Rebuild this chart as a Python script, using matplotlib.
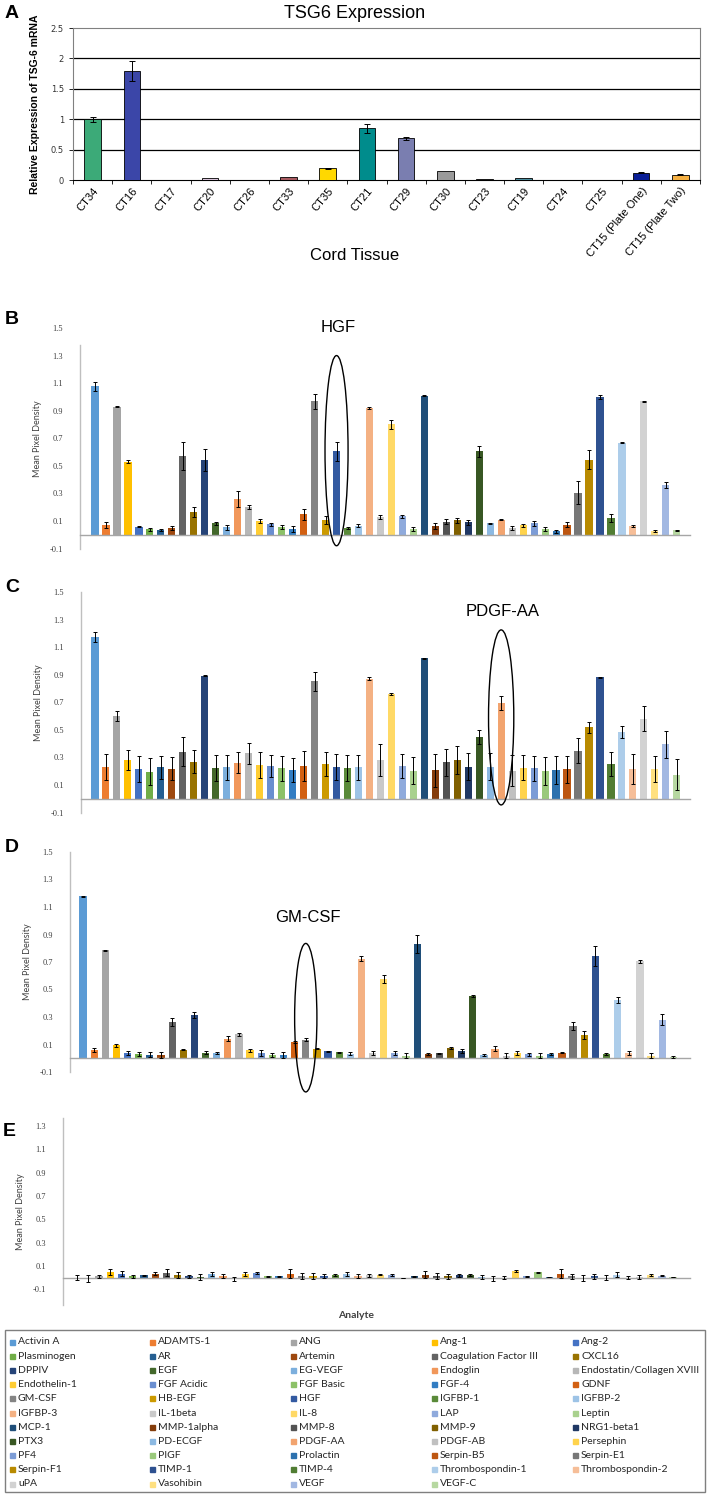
import colorsys
import numpy as np
import matplotlib
matplotlib.use("Agg")
import matplotlib.pyplot as plt
from matplotlib.patches import Ellipse, Rectangle
from matplotlib.ticker import FormatStrFormatter

# ---- panel A data ----
tissues = ['CT34', 'CT16', 'CT17', 'CT20', 'CT26', 'CT33', 'CT35', 'CT21', 'CT29',
           'CT30', 'CT23', 'CT19', 'CT24', 'CT25', 'CT15 (Plate One)', 'CT15 (Plate Two)']
tsg6 = [1.0, 1.79, 0, 0.04, 0, 0.05, 0.195, 0.85, 0.685, 0.14, 0.01, 0.03, 0, 0, 0.12, 0.085]
tsg6_err = [0.04, 0.16, 0, 0, 0, 0, 0.01, 0.075, 0.03, 0, 0, 0, 0, 0, 0.01, 0.01]
tsg6_colors = ['#3CAA78', '#3B46A8', '#FFFFFF', '#D9C3DA', '#FFFFFF', '#A85A60', '#FFD800',
               '#008C8C', '#7A7EB0', '#9A9A9A', '#5A5A5A', '#4C8FA0', '#FFFFFF', '#FFFFFF',
               '#0A1E96', '#F5B042']

# ---- analytes (panels B-E) ----
analytes = ['Activin A', 'ADAMTS-1', 'ANG', 'Ang-1', 'Ang-2', 'Plasminogen', 'AR', 'Artemin',
            'Coagulation Factor III', 'CXCL16', 'DPPIV', 'EGF', 'EG-VEGF', 'Endoglin',
            'Endostatin/Collagen XVIII', 'Endothelin-1', 'FGF Acidic', 'FGF Basic', 'FGF-4',
            'GDNF', 'GM-CSF', 'HB-EGF', 'HGF', 'IGFBP-1', 'IGFBP-2', 'IGFBP-3', 'IL-1beta',
            'IL-8', 'LAP', 'Leptin', 'MCP-1', 'MMP-1alpha', 'MMP-8', 'MMP-9', 'NRG1-beta1',
            'PTX3', 'PD-ECGF', 'PDGF-AA', 'PDGF-AB', 'Persephin', 'PF4', 'PIGF', 'Prolactin',
            'Serpin-B5', 'Serpin-E1', 'Serpin-F1', 'TIMP-1', 'TIMP-4', 'Thrombospondin-1',
            'Thrombospondin-2', 'uPA', 'Vasohibin', 'VEGF', 'VEGF-C']

hgf_vals = [1.076, 0.07, 0.93, 0.53, 0.058, 0.04, 0.035, 0.046, 0.57, 0.167, 0.543, 0.082,
            0.053, 0.26, 0.20, 0.10, 0.075, 0.056, 0.04, 0.148, 0.967, 0.107, 0.604, 0.048,
            0.066, 0.92, 0.13, 0.80, 0.133, 0.044, 1.008, 0.065, 0.095, 0.104, 0.09, 0.604,
            0.082, 0.109, 0.046, 0.068, 0.082, 0.044, 0.024, 0.073, 0.305, 0.545, 0.999,
            0.121, 0.667, 0.063, 0.967, 0.027, 0.361, 0.032]
hgf_err = [0.035, 0.02, 0.005, 0.01, 0.005, 0.01, 0.01, 0.015, 0.10, 0.036, 0.08, 0.01,
           0.02, 0.058, 0.015, 0.012, 0.012, 0.015, 0.02, 0.04, 0.053, 0.03, 0.068, 0.01,
           0.01, 0.008, 0.015, 0.034, 0.01, 0.015, 0.003, 0.02, 0.02, 0.02, 0.02, 0.04,
           0.005, 0.005, 0.015, 0.01, 0.02, 0.015, 0.012, 0.02, 0.085, 0.07, 0.015, 0.03,
           0.005, 0.01, 0.005, 0.01, 0.02, 0.005]

pdgf_vals = [1.173, 0.228, 0.60, 0.281, 0.216, 0.196, 0.228, 0.218, 0.342, 0.27, 0.892,
             0.223, 0.228, 0.262, 0.33, 0.245, 0.238, 0.22, 0.208, 0.238, 0.853, 0.252,
             0.233, 0.223, 0.228, 0.87, 0.281, 0.759, 0.238, 0.204, 1.018, 0.208, 0.264,
             0.279, 0.233, 0.448, 0.233, 0.696, 0.204, 0.225, 0.22, 0.20, 0.208, 0.213,
             0.347, 0.519, 0.882, 0.252, 0.485, 0.216, 0.582, 0.216, 0.395, 0.175]
pdgf_err = [0.036, 0.095, 0.036, 0.072, 0.095, 0.10, 0.085, 0.085, 0.104, 0.085, 0.005,
            0.095, 0.09, 0.075, 0.075, 0.095, 0.08, 0.09, 0.09, 0.11, 0.07, 0.085, 0.095,
            0.095, 0.09, 0.01, 0.114, 0.01, 0.085, 0.10, 0.003, 0.12, 0.10, 0.10, 0.10,
            0.05, 0.10, 0.05, 0.115, 0.09, 0.09, 0.10, 0.10, 0.10, 0.09, 0.04, 0.003,
            0.085, 0.045, 0.11, 0.09, 0.095, 0.10, 0.11]

gmcsf_vals = [1.178, 0.058, 0.785, 0.095, 0.039, 0.03, 0.027, 0.022, 0.264, 0.063, 0.313,
              0.041, 0.039, 0.143, 0.175, 0.058, 0.039, 0.024, 0.024, 0.119, 0.136, 0.07,
              0.051, 0.044, 0.034, 0.725, 0.039, 0.579, 0.041, 0.02, 0.834, 0.03, 0.035,
              0.075, 0.05, 0.453, 0.025, 0.07, 0.02, 0.04, 0.03, 0.02, 0.03, 0.04, 0.235,
              0.167, 0.744, 0.03, 0.422, 0.04, 0.705, 0.02, 0.279, 0.01]
gmcsf_err = [0.005, 0.015, 0.005, 0.01, 0.015, 0.015, 0.015, 0.02, 0.03, 0.005, 0.02,
             0.01, 0.005, 0.02, 0.012, 0.012, 0.02, 0.015, 0.02, 0.01, 0.008, 0.005, 0.005,
             0.005, 0.008, 0.02, 0.015, 0.03, 0.015, 0.015, 0.065, 0.005, 0.005, 0.005,
             0.015, 0.01, 0.005, 0.02, 0.015, 0.015, 0.01, 0.015, 0.005, 0.005, 0.03, 0.03,
             0.075, 0.005, 0.02, 0.015, 0.01, 0.015, 0.04, 0.01]

neg_vals = [0.0, -0.01, 0.01, 0.045, 0.035, 0.01, 0.02, 0.035, 0.04, 0.02, 0.01, 0.005,
            0.03, 0.015, -0.01, 0.03, 0.04, 0.01, 0.01, 0.035, 0.015, 0.015, 0.015, 0.025,
            0.03, 0.015, 0.02, 0.025, 0.02, -0.003, 0.01, 0.025, 0.015, 0.01, 0.02, 0.025,
            0.005, -0.005, 0.0, 0.055, 0.01, 0.045, 0.005, 0.035, 0.01, 0.0, 0.01, 0.0,
            0.025, 0.0, 0.005, 0.02, 0.015, 0.005]
neg_err = [0.02, 0.03, 0.015, 0.025, 0.02, 0.015, 0.005, 0.01, 0.03, 0.025, 0.015, 0.025,
           0.02, 0.02, 0.015, 0.02, 0.01, 0.005, 0.005, 0.035, 0.025, 0.025, 0.02, 0.01,
           0.02, 0.02, 0.015, 0.005, 0.01, 0.003, 0.005, 0.03, 0.025, 0.025, 0.015, 0.01,
           0.02, 0.02, 0.015, 0.01, 0.005, 0.005, 0.003, 0.035, 0.025, 0.025, 0.025, 0.02,
           0.02, 0.015, 0.015, 0.01, 0.005, 0.003]

# Excel-like palette: 6 accents, each cycle with a different luminance modifier
accents = ['#5B9BD5', '#ED7D31', '#A5A5A5', '#FFC000', '#4472C4', '#70AD47']
lum_mods = [(1, 0), (0.6, 0), (0.8, 0.2), (0.8, 0), (0.6, 0.4), (0.5, 0),
            (0.7, 0.3), (0.72, 0), (0.5, 0.5)]


def shade(hexcol, mod, off):
    r, g, b = matplotlib.colors.to_rgb(hexcol)
    h, l, s = colorsys.rgb_to_hls(r, g, b)
    l = min(1, l * mod + off)
    return colorsys.hls_to_rgb(h, l, s)


palette = [shade(accents[i % 6], *lum_mods[i // 6]) for i in range(len(analytes))]

W, H = 709, 1495
fig = plt.figure(figsize=(W / 100, H / 100), dpi=100)


def add_ax(left, right, top, bottom):
    return fig.add_axes([left / W, 1 - bottom / H, (right - left) / W, (bottom - top) / H])


# ---------------- panel A ----------------
ax = add_ax(73, 700, 28, 180)
x = np.arange(len(tissues))
ax.bar(x, tsg6, width=0.42, color=tsg6_colors, edgecolor='black', linewidth=0.6, zorder=3)
for i in range(len(tissues)):
    if tsg6_err[i] > 0:
        ax.errorbar(i, tsg6[i], yerr=tsg6_err[i], color='black', lw=0.7, capsize=2.5,
                    capthick=0.7, zorder=4)
ax.set_ylim(0, 2.5)
ax.set_xlim(-0.5, len(tissues) - 0.5)
ax.set_yticks([0, 0.5, 1, 1.5, 2, 2.5])
ax.yaxis.set_major_formatter(FormatStrFormatter('%g'))
for yv in [0.5, 1, 1.5, 2]:
    ax.axhline(yv, color='black', lw=0.9, zorder=1)
for s in ax.spines.values():
    s.set_color('#808080')
    s.set_linewidth(0.8)
ax.spines['bottom'].set_color('black')
ax.set_xticks(x)
ax.set_xticklabels(tissues, rotation=50, ha='right', rotation_mode='anchor',
                   fontsize=8, family='Liberation Sans')
ax.set_xticks(np.arange(len(tissues) + 1) - 0.5, minor=True)
ax.tick_params(axis='x', which='major', length=0, pad=4)
ax.tick_params(axis='x', which='minor', length=3, width=0.6)
ax.tick_params(axis='y', labelsize=6, length=3, width=0.6, labelcolor='#333333')
ax.set_ylabel('Relative Expression of TSG-6 mRNA', fontsize=7.5, fontweight='bold',
              family='Liberation Sans', labelpad=8)
fig.text(355 / W, 1 - 14 / H, 'TSG6 Expression', ha='center', va='center', fontsize=13,
         family='Liberation Sans')
fig.text(355 / W, 1 - 256 / H, 'Cord Tissue', ha='center', va='center', fontsize=12,
         family='Liberation Sans')
fig.text(12 / W, 1 - 14 / H, 'A', ha='center', va='center', fontsize=14, fontweight='bold',
         family='Liberation Sans')


# ---------------- panels B-E ----------------
def density_panel(box, vals, errs, ylim, yticks, xlim, spine_top=None):
    a = add_ax(*box)
    xi = np.arange(len(vals))
    a.bar(xi, vals, width=0.65, color=palette, zorder=2)
    a.errorbar(xi, vals, yerr=errs, fmt='none', ecolor='black', elinewidth=0.7,
               capsize=1.6, capthick=0.7, zorder=3)
    a.set_ylim(*ylim)
    a.set_xlim(*xlim)
    a.set_yticks(yticks)
    a.yaxis.set_major_formatter(FormatStrFormatter('%.1f'))
    a.tick_params(axis='y', length=0, labelsize=6, labelcolor='#404040', pad=12)
    for lab in a.get_yticklabels():
        lab.set_family('Liberation Serif')
    a.set_xticks([])
    for side in ['top', 'right']:
        a.spines[side].set_visible(False)
    a.spines['left'].set_color('#BFBFBF')
    a.spines['left'].set_linewidth(1)
    if spine_top is not None:
        a.spines['left'].set_bounds(ylim[0], spine_top)
    a.spines['bottom'].set_position(('data', 0))
    a.spines['bottom'].set_color('#A6A6A6')
    a.spines['bottom'].set_linewidth(1)
    a.set_ylabel('Mean Pixel Density', fontsize=6.5, color='#404040', family='Lato',
                 labelpad=6)
    return a


ticks_full = [-0.1, 0.1, 0.3, 0.5, 0.7, 0.9, 1.1, 1.3, 1.5]
axB = density_panel((80, 690, 328, 548.5), hgf_vals, hgf_err, (-0.1, 1.5), ticks_full,
                    (-1.37, 54.2), spine_top=1.38)
axC = density_panel((81, 690, 592, 812.5), pdgf_vals, pdgf_err, (-0.1, 1.5), ticks_full,
                    (-1.27, 54.2))
axD = density_panel((70, 690, 852, 1072), gmcsf_vals, gmcsf_err, (-0.1, 1.5), ticks_full,
                    (-1.17, 54.5))
axE = density_panel((63, 690, 1118, 1305), neg_vals, neg_err, (-0.235, 1.37),
                    [-0.1, 0.1, 0.3, 0.5, 0.7, 0.9, 1.1, 1.3], (-1.2, 54.5))
fig.text(356 / W, 1 - 1316 / H, 'Analyte', ha='center', va='center', fontsize=7.5,
         fontweight='bold', color='#404040', family='Lato')

# highlighted analytes
axB.add_patch(Ellipse((22, 0.61), 2.1, 1.38, fill=False, lw=1, ec='black', clip_on=False,
                      zorder=5))
axC.add_patch(Ellipse((37, 0.59), 2.3, 1.27, fill=False, lw=1, ec='black', clip_on=False,
                      zorder=5))
axD.add_patch(Ellipse((20, 0.295), 2.0, 1.08, fill=False, lw=1, ec='black', clip_on=False,
                      zorder=5))

for label, px, py in [('HGF', 338, 327), ('PDGF-AA', 503, 612), ('GM-CSF', 308, 918)]:
    fig.text(px / W, 1 - py / H, label, ha='center', va='center', fontsize=12,
             family='Liberation Sans')
for label, px, py in [('B', 12, 320), ('C', 12, 588), ('D', 12, 848), ('E', 9, 1131)]:
    fig.text(px / W, 1 - py / H, label, ha='center', va='center', fontsize=14,
             fontweight='bold', family='Liberation Sans')

# ---------------- legend ----------------
fig.patches.append(Rectangle((5 / W, 1 - 1492 / H), 700 / W, 162 / H, fill=False,
                             ec='#7F7F7F', lw=1, transform=fig.transFigure, figure=fig))
col_x = [10, 150, 291, 432, 573]
for i, name in enumerate(analytes):
    r, c = divmod(i, 5)
    yy = 1342 + r * 14.2
    fig.patches.append(Rectangle((col_x[c] / W, 1 - (yy + 2.5) / H), 5 / W, 5 / H,
                                 color=palette[i], transform=fig.transFigure, figure=fig))
    fig.text((col_x[c] + 8) / W, 1 - yy / H, name, ha='left', va='center', fontsize=7.5,
             family='Lato', color='#262626')

fig.savefig('out.png', dpi=100)
